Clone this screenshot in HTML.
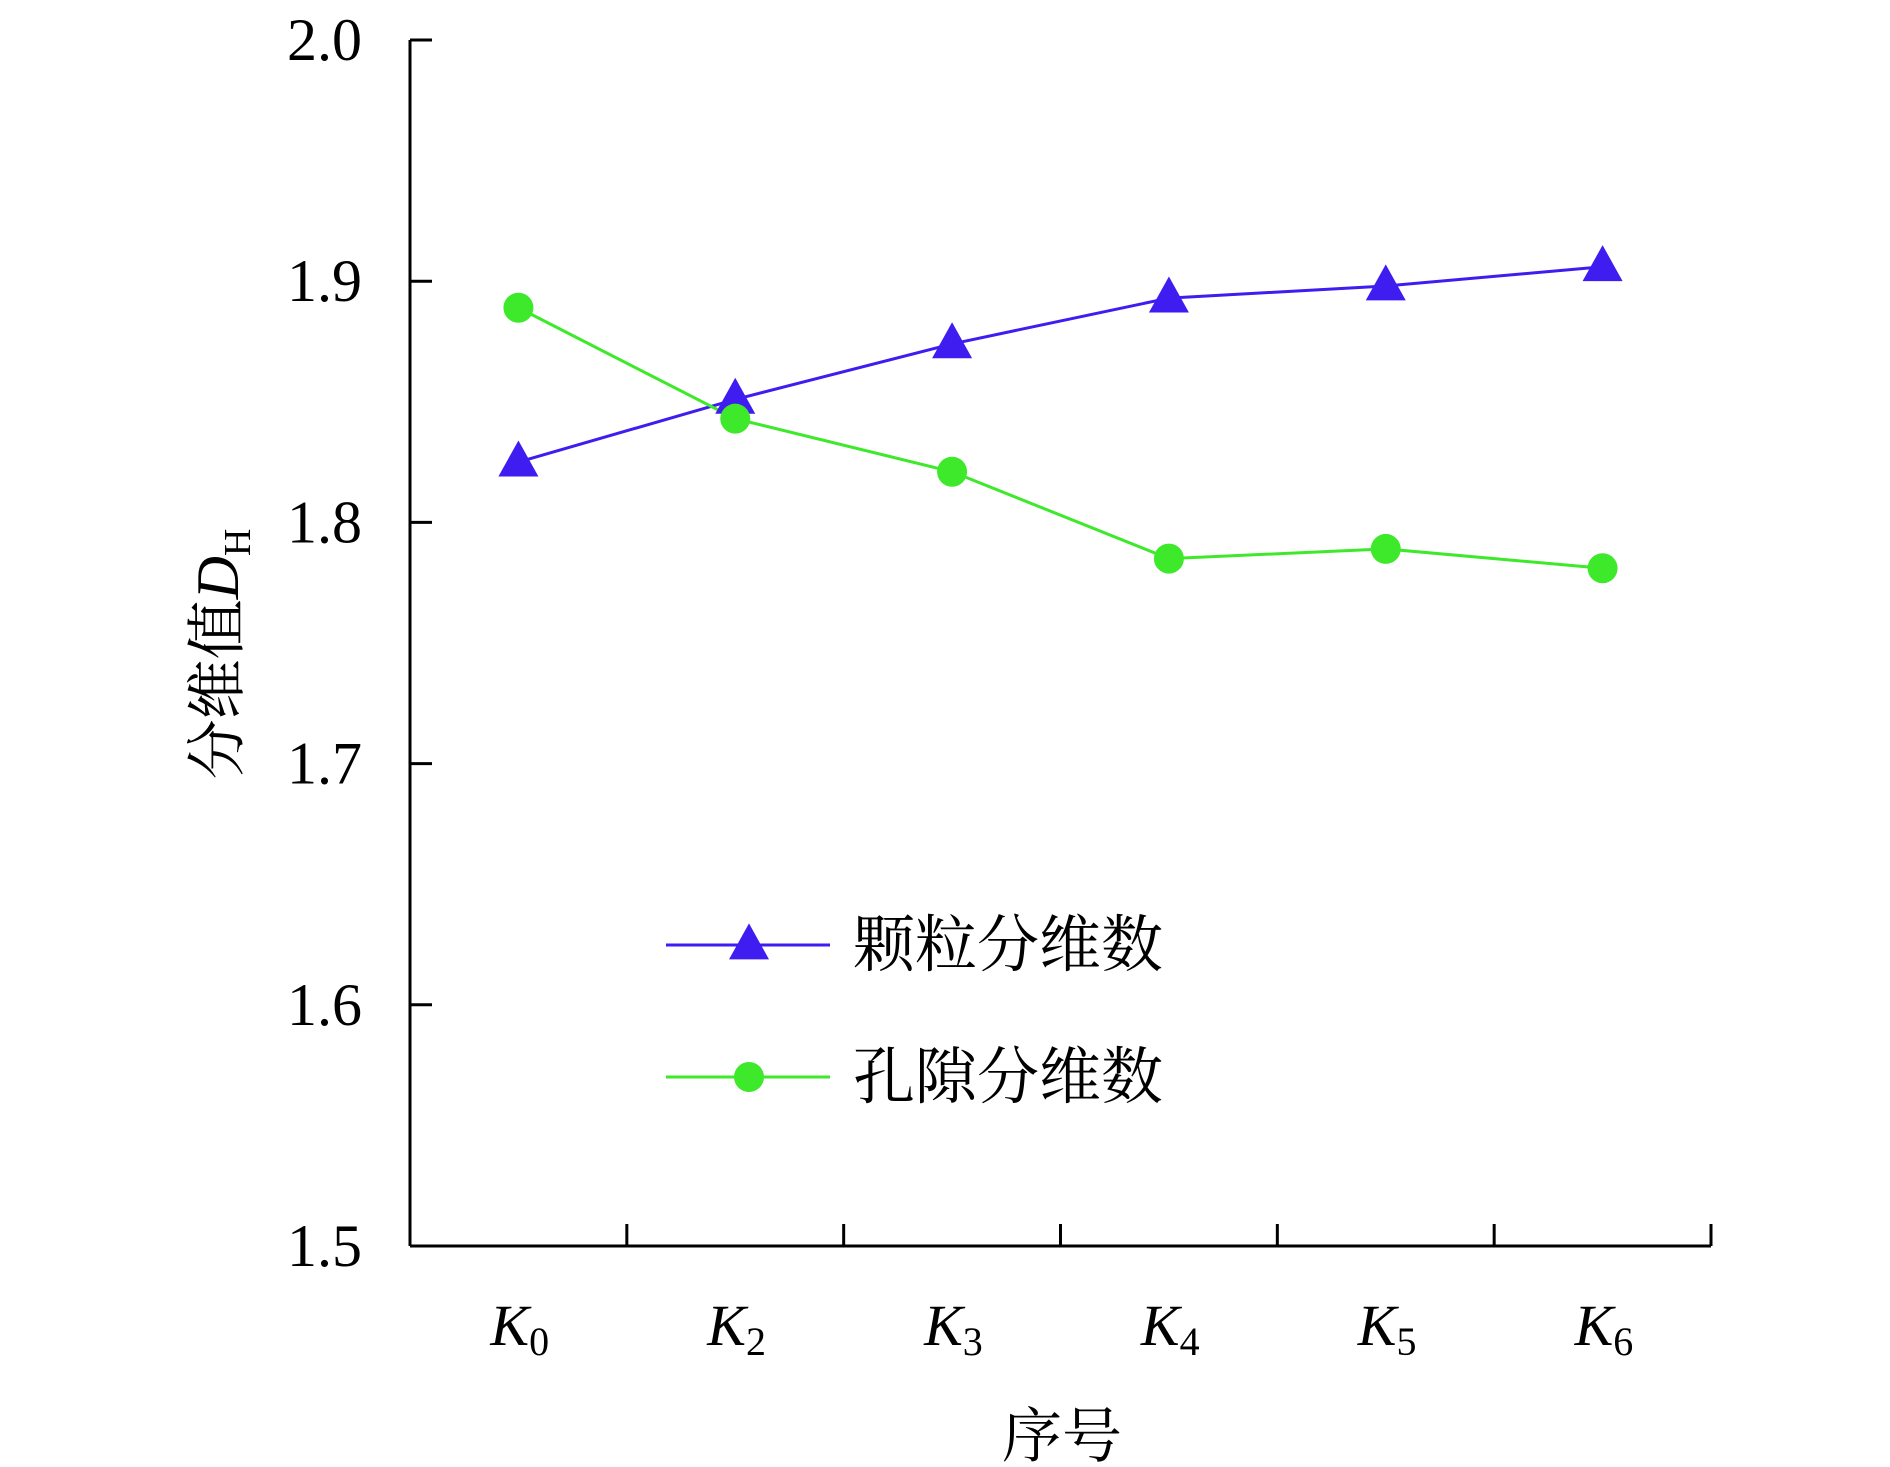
<!DOCTYPE html>
<html><head><meta charset="utf-8"><style>
html,body{margin:0;padding:0;background:#fff;}
svg{display:block;}
text{font-family:"Liberation Serif","Noto Serif CJK SC",serif;fill:#000;}
.cjk{font-family:"Liberation Serif","Noto Serif CJK SC","Noto Sans CJK SC",serif;}
</style></head><body>
<svg id="chart" width="1890" height="1467" viewBox="0 0 1890 1467">
<g id="axes"></g>
<g id="series"></g>
<g id="legend"></g>
</svg>
<script>
const categories = ["0","2","3","4","5","6"];
const particleDim = [1.825,1.851,1.874,1.893,1.898,1.906];
const poreDim = [1.889,1.843,1.821,1.785,1.789,1.781];
const yTicks = [1.5,1.6,1.7,1.8,1.9,2.0];
const yTickLabels = ["1.5","1.6","1.7","1.8","1.9","2.0"];

const NS="http://www.w3.org/2000/svg";
const X0=410,X1=1711,Y0=1246,Y1=40,YMIN=1.5,YMAX=2.0;
const band=(X1-X0)/categories.length;
function xS(i){return X0+band*(i+0.5);}
function yS(v){return Y0-(v-YMIN)/(YMAX-YMIN)*(Y0-Y1);}
function mk(tag,attrs,parent,txt){const e=document.createElementNS(NS,tag);for(const k in attrs)e.setAttribute(k,attrs[k]);if(txt!==undefined)e.textContent=txt;parent.appendChild(e);return e;}
const axes=document.getElementById('axes'),series=document.getElementById('series'),legend=document.getElementById('legend');

let e=mk('line',{x1:X0,y1:Y1,x2:X0,y2:Y0,stroke:'#000','stroke-width':3},axes);


e=mk('line',{x1:X0,y1:Y0,x2:X1,y2:Y0,stroke:'#000','stroke-width':3},axes);


yTicks.forEach((v,i)=>{
  const y=yS(v);
  let t=mk('line',{x1:X0,y1:y,x2:X0+22,y2:y,stroke:'#000','stroke-width':3},axes);
  
  
  let l=mk('text',{x:362,y:y+20,'text-anchor':'end','font-size':60},axes,yTickLabels[i]);
  
  
});
for(let i=1;i<=categories.length;i++){
  const x=X0+band*i;
  let t=mk('line',{x1:x,y1:Y0,x2:x,y2:Y0-22,stroke:'#000','stroke-width':3},axes);
  
  
}
categories.forEach((c,i)=>{
  let l=mk('text',{x:xS(i)-28,y:1345,'font-size':58},axes);
  
  
  mk('tspan',{'font-style':'italic'},l,'K');
  mk('tspan',{'font-size':40,dy:10},l,c);
});
let yt=mk('text',{transform:'translate(238,654) rotate(-90)','text-anchor':'middle','font-size':60,class:'cjk'},axes);


mk('tspan',{},yt,'分维值');
mk('tspan',{'font-style':'italic'},yt,'D');
mk('tspan',{'font-size':38,dy:12},yt,'H');
let xt=mk('text',{x:1062,y:1457,'text-anchor':'middle','font-size':60,class:'cjk'},axes,'序号');



function tri(x,y,s,p,color){const h=s*0.9;return mk('polygon',{points:`${x},${y-h*0.6} ${x-s/2},${y+h*0.4} ${x+s/2},${y+h*0.4}`,fill:color},p);}
const BLUE='#3f1cf0',GREEN='#3ee82a';
let pl=mk('polyline',{points:particleDim.map((v,i)=>xS(i)+','+yS(v)).join(' '),fill:'none',stroke:BLUE,'stroke-width':3},series);


let gl=mk('polyline',{points:poreDim.map((v,i)=>xS(i)+','+yS(v)).join(' '),fill:'none',stroke:GREEN,'stroke-width':3},series);


particleDim.forEach((v,i)=>{
  const m=tri(xS(i),yS(v),40,series,BLUE);
  
  
});
poreDim.forEach((v,i)=>{
  const m=mk('circle',{cx:xS(i),cy:yS(v),r:15,fill:GREEN},series);
  
  
});

let l1=mk('line',{x1:666,y1:945,x2:830,y2:945,stroke:BLUE,'stroke-width':3},legend);


let lm1=tri(749,945,40,legend,BLUE);


let lt1=mk('text',{x:853,y:966,'font-size':62,class:'cjk'},legend,'颗粒分维数');


let l2=mk('line',{x1:666,y1:1077,x2:830,y2:1077,stroke:GREEN,'stroke-width':3},legend);


let lm2=mk('circle',{cx:749,cy:1077,r:15,fill:GREEN},legend);


let lt2=mk('text',{x:853,y:1098,'font-size':62,class:'cjk'},legend,'孔隙分维数');


</script>
</body></html>
